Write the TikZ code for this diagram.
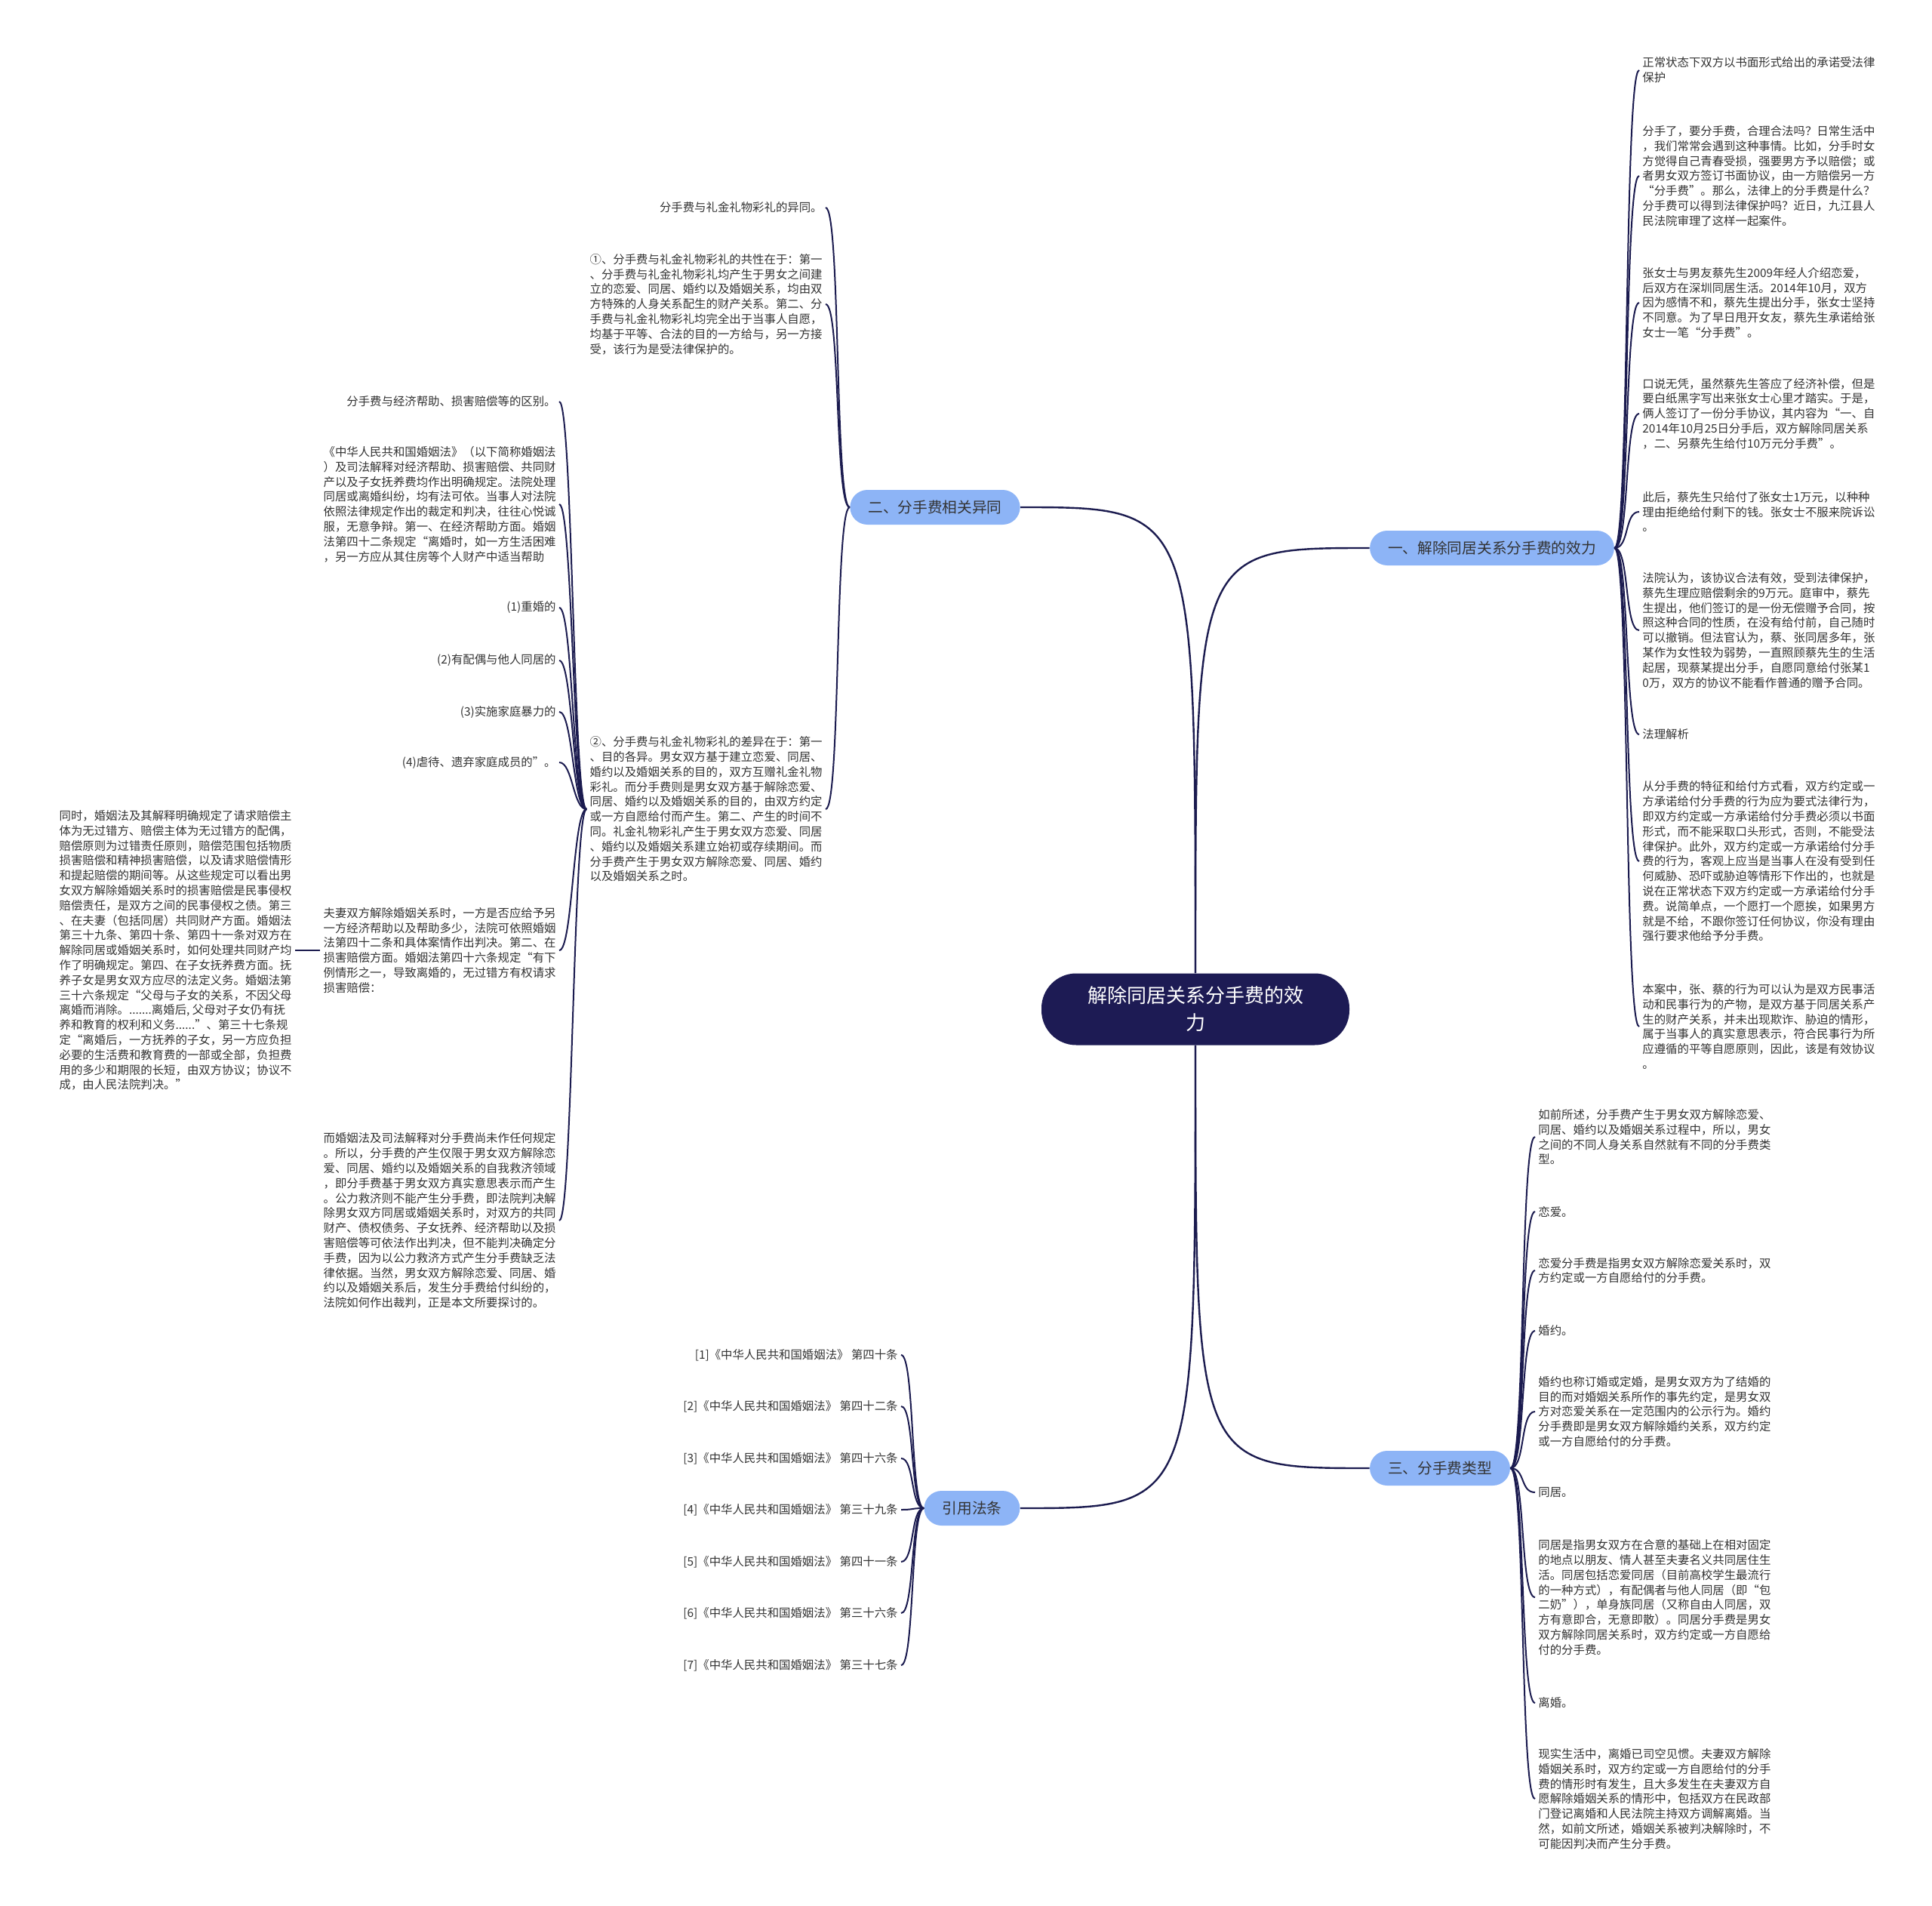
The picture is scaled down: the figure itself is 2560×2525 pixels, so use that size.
\documentclass[tikz,border=0pt]{standalone}
\usepackage{fontspec}
\setmainfont{Noto Sans CJK SC}
\definecolor{lk}{HTML}{1B1B4F}
\definecolor{rootc}{HTML}{1D1B54}
\definecolor{bfill}{HTML}{8DB4F6}
\definecolor{txt}{HTML}{333333}
\begin{document}
\begin{tikzpicture}[x=0.5pt,y=-0.5pt,
  leaf/.style={inner xsep=2pt, inner ysep=0pt, align=left, text=txt, font=\fontsize{7.7pt}{9.9pt}\selectfont},
  lw/.style={leaf, anchor=west},
  le/.style={leaf, anchor=east},
  rootnode/.style={fill=rootc, rounded corners=23pt, minimum width=204pt, minimum height=47.5pt, text=white, align=center, font=\fontsize{13pt}{18pt}\selectfont},
  branch/.style={fill=bfill, rounded corners=11.5pt, inner xsep=12pt, minimum height=23pt, text=txt, font=\fontsize{9.85pt}{12pt}\selectfont},
  link/.style={draw=lk, line width=1pt},
  rlink/.style={draw=lk, line width=1.2pt},
]
\useasboundingbox (0,0) rectangle (2560,2525);

% root and branches
\node[rootnode] (root) at (1584,1337) {解除同居关系分手费的效\\力};
\node[branch] (b1) at (1977,726) {一、解除同居关系分手费的效力};
\node[branch] (b2) at (1239,672) {二、分手费相关异同};
\node[branch] (b3) at (1908,1945) {三、分手费类型};
\node[branch] (b4) at (1288,1998) {引用法条};

% branch 1 leaves
\node[lw] (r1) at (2172,93) {正常状态下双方以书面形式给出的承诺受法律\\保护};
\node[lw] (r2) at (2172,233) {分手了，要分手费，合理合法吗？日常生活中\\，我们常常会遇到这种事情。比如，分手时女\\方觉得自己青春受损，强要男方予以赔偿；或\\者男女双方签订书面协议，由一方赔偿另一方\\“分手费”。那么，法律上的分手费是什么？\\分手费可以得到法律保护吗？近日，九江县人\\民法院审理了这样一起案件。};
\node[lw] (r3) at (2172,401) {张女士与男友蔡先生2009年经人介绍恋爱，\\后双方在深圳同居生活。2014年10月，双方\\因为感情不和，蔡先生提出分手，张女士坚持\\不同意。为了早日甩开女友，蔡先生承诺给张\\女士一笔“分手费”。};
\node[lw] (r4) at (2172,548) {口说无凭，虽然蔡先生答应了经济补偿，但是\\要白纸黑字写出来张女士心里才踏实。于是，\\俩人签订了一份分手协议，其内容为“一、自\\2014年10月25日分手后，双方解除同居关系\\，二、另蔡先生给付10万元分手费”。};
\node[lw] (r5) at (2172,678) {此后，蔡先生只给付了张女士1万元，以种种\\理由拒绝给付剩下的钱。张女士不服来院诉讼\\。};
\node[lw] (r6) at (2172,835) {法院认为，该协议合法有效，受到法律保护，\\蔡先生理应赔偿剩余的9万元。庭审中，蔡先\\生提出，他们签订的是一份无偿赠予合同，按\\照这种合同的性质，在没有给付前，自己随时\\可以撤销。但法官认为，蔡、张同居多年，张\\某作为女性较为弱势，一直照顾蔡先生的生活\\起居，现蔡某提出分手，自愿同意给付张某1\\0万，双方的协议不能看作普通的赠予合同。};
\node[lw] (r7) at (2172,973) {法理解析};
\node[lw] (r8) at (2172,1141) {从分手费的特征和给付方式看，双方约定或一\\方承诺给付分手费的行为应为要式法律行为，\\即双方约定或一方承诺给付分手费必须以书面\\形式，而不能采取口头形式，否则，不能受法\\律保护。此外，双方约定或一方承诺给付分手\\费的行为，客观上应当是当事人在没有受到任\\何威胁、恐吓或胁迫等情形下作出的，也就是\\说在正常状态下双方约定或一方承诺给付分手\\费。说简单点，一个愿打一个愿挨，如果男方\\就是不给，不跟你签订任何协议，你没有理由\\强行要求他给予分手费。};
\node[lw] (r9) at (2172,1360) {本案中，张、蔡的行为可以认为是双方民事活\\动和民事行为的产物，是双方基于同居关系产\\生的财产关系，并未出现欺诈、胁迫的情形，\\属于当事人的真实意思表示，符合民事行为所\\应遵循的平等自愿原则，因此，该是有效协议\\。};

% branch 3 leaves
\node[lw] (t1) at (2034,1506) {如前所述，分手费产生于男女双方解除恋爱、\\同居、婚约以及婚姻关系过程中，所以，男女\\之间的不同人身关系自然就有不同的分手费类\\型。};
\node[lw] (t2) at (2034,1605) {恋爱。};
\node[lw] (t3) at (2034,1683) {恋爱分手费是指男女双方解除恋爱关系时，双\\方约定或一方自愿给付的分手费。};
\node[lw] (t4) at (2034,1763) {婚约。};
\node[lw] (t5) at (2034,1870) {婚约也称订婚或定婚，是男女双方为了结婚的\\目的而对婚姻关系所作的事先约定，是男女双\\方对恋爱关系在一定范围内的公示行为。婚约\\分手费即是男女双方解除婚约关系，双方约定\\或一方自愿给付的分手费。};
\node[lw] (t6) at (2034,1977) {同居。};
\node[lw] (t7) at (2034,2116) {同居是指男女双方在合意的基础上在相对固定\\的地点以朋友、情人甚至夫妻名义共同居住生\\活。同居包括恋爱同居（目前高校学生最流行\\的一种方式），有配偶者与他人同居（即“包\\二奶”），单身族同居（又称自由人同居，双\\方有意即合，无意即散）。同居分手费是男女\\双方解除同居关系时，双方约定或一方自愿给\\付的分手费。};
\node[lw] (t8) at (2034,2256) {离婚。};
\node[lw] (t9) at (2034,2383) {现实生活中，离婚已司空见惯。夫妻双方解除\\婚姻关系时，双方约定或一方自愿给付的分手\\费的情形时有发生，且大多发生在夫妻双方自\\愿解除婚姻关系的情形中，包括双方在民政部\\门登记离婚和人民法院主持双方调解离婚。当\\然，如前文所述，婚姻关系被判决解除时，不\\可能因判决而产生分手费。};

% branch 2 leaves
\node[le] (n1) at (1094,275) {分手费与礼金礼物彩礼的异同。};
\node[le] (n2) at (1094,403) {①、分手费与礼金礼物彩礼的共性在于：第一\\、分手费与礼金礼物彩礼均产生于男女之间建\\立的恋爱、同居、婚约以及婚姻关系，均由双\\方特殊的人身关系配生的财产关系。第二、分\\手费与礼金礼物彩礼均完全出于当事人自愿，\\均基于平等、合法的目的一方给与，另一方接\\受，该行为是受法律保护的。};
\node[le] (n3) at (1094,1072) {②、分手费与礼金礼物彩礼的差异在于：第一\\、目的各异。男女双方基于建立恋爱、同居、\\婚约以及婚姻关系的目的，双方互赠礼金礼物\\彩礼。而分手费则是男女双方基于解除恋爱、\\同居、婚约以及婚姻关系的目的，由双方约定\\或一方自愿给付而产生。第二、产生的时间不\\同。礼金礼物彩礼产生于男女双方恋爱、同居\\、婚约以及婚姻关系建立始初或存续期间。而\\分手费产生于男女双方解除恋爱、同居、婚约\\以及婚姻关系之时。};

% children of n3
\node[le] (p1) at (741,532) {分手费与经济帮助、损害赔偿等的区别。};
\node[le] (p2) at (741,668) {《中华人民共和国婚姻法》（以下简称婚姻法\\）及司法解释对经济帮助、损害赔偿、共同财\\产以及子女抚养费均作出明确规定。法院处理\\同居或离婚纠纷，均有法可依。当事人对法院\\依照法律规定作出的裁定和判决，往往心悦诚\\服，无意争辩。第一、在经济帮助方面。婚姻\\法第四十二条规定“离婚时，如一方生活困难\\，另一方应从其住房等个人财产中适当帮助};
\node[le] (p3) at (741,805) {(1)重婚的};
\node[le] (p4) at (741,875) {(2)有配偶与他人同居的};
\node[le] (p5) at (741,943) {(3)实施家庭暴力的};
\node[le] (p6) at (741,1010) {(4)虐待、遗弃家庭成员的”。};
\node[le] (p7) at (741,1259) {夫妻双方解除婚姻关系时，一方是否应给予另\\一方经济帮助以及帮助多少，法院可依照婚姻\\法第四十二条和具体案情作出判决。第二、在\\损害赔偿方面。婚姻法第四十六条规定“有下\\例情形之一，导致离婚的，无过错方有权请求\\损害赔偿：};
\node[le] (p8) at (741,1617) {而婚姻法及司法解释对分手费尚未作任何规定\\。所以，分手费的产生仅限于男女双方解除恋\\爱、同居、婚约以及婚姻关系的自我救济领域\\，即分手费基于男女双方真实意思表示而产生\\。公力救济则不能产生分手费，即法院判决解\\除男女双方同居或婚姻关系时，对双方的共同\\财产、债权债务、子女抚养、经济帮助以及损\\害赔偿等可依法作出判决，但不能判决确定分\\手费，因为以公力救济方式产生分手费缺乏法\\律依据。当然，男女双方解除恋爱、同居、婚\\约以及婚姻关系后，发生分手费给付纠纷的，\\法院如何作出裁判，正是本文所要探讨的。};

% child of p7
\node[le] (q1) at (391,1259) {同时，婚姻法及其解释明确规定了请求赔偿主\\体为无过错方、赔偿主体为无过错方的配偶，\\赔偿原则为过错责任原则，赔偿范围包括物质\\损害赔偿和精神损害赔偿，以及请求赔偿情形\\和提起赔偿的期间等。从这些规定可以看出男\\女双方解除婚姻关系时的损害赔偿是民事侵权\\赔偿责任，是双方之间的民事侵权之债。第三\\、在夫妻（包括同居）共同财产方面。婚姻法\\第三十九条、第四十条、第四十一条对双方在\\解除同居或婚姻关系时，如何处理共同财产均\\作了明确规定。第四、在子女抚养费方面。抚\\养子女是男女双方应尽的法定义务。婚姻法第\\三十六条规定“父母与子女的关系，不因父母\\离婚而消除。.......离婚后, 父母对子女仍有抚\\养和教育的权利和义务......”、第三十七条规\\定“离婚后，一方抚养的子女，另一方应负担\\必要的生活费和教育费的一部或全部，负担费\\用的多少和期限的长短，由双方协议；协议不\\成，由人民法院判决。”};

% citations
\node[le] (c1) at (1194,1795) {[1]《中华人民共和国婚姻法》 第四十条};
\node[le] (c2) at (1194,1863) {[2]《中华人民共和国婚姻法》 第四十二条};
\node[le] (c3) at (1194,1932) {[3]《中华人民共和国婚姻法》 第四十六条};
\node[le] (c4) at (1194,2000) {[4]《中华人民共和国婚姻法》 第三十九条};
\node[le] (c5) at (1194,2069) {[5]《中华人民共和国婚姻法》 第四十一条};
\node[le] (c6) at (1194,2137) {[6]《中华人民共和国婚姻法》 第三十六条};
\node[le] (c7) at (1194,2206) {[7]《中华人民共和国婚姻法》 第三十七条};

% root connectors
\draw[rlink] (root.north) .. controls (root.north |- b1.west) .. (b1.west);
\draw[rlink] (root.north) .. controls (root.north |- b2.east) .. (b2.east);
\draw[rlink] (root.south) .. controls (root.south |- b3.west) .. (b3.west);
\draw[rlink] (root.south) .. controls (root.south |- b4.east) .. (b4.east);

% leaf connectors
\foreach \n in {r1,r2,r3,r4,r5,r6,r7,r8,r9}
  \draw[link] (b1.east) .. controls +(20,0) and +(-20,0) .. (\n.west);
\foreach \n in {t1,t2,t3,t4,t5,t6,t7,t8,t9}
  \draw[link] (b3.east) .. controls +(20,0) and +(-20,0) .. (\n.west);
\foreach \n in {n1,n2,n3}
  \draw[link] (b2.west) .. controls +(-20,0) and +(20,0) .. (\n.east);
\foreach \n in {p1,p2,p3,p4,p5,p6,p7,p8}
  \draw[link] (n3.west) .. controls +(-18,0) and +(18,0) .. (\n.east);
\foreach \n in {c1,c2,c3,c4,c5,c6,c7}
  \draw[link] (b4.west) .. controls +(-18,0) and +(18,0) .. (\n.east);
\draw[link] (p7.west) .. controls +(-14,0) and +(14,0) .. (q1.east);
\end{tikzpicture}
\end{document}
